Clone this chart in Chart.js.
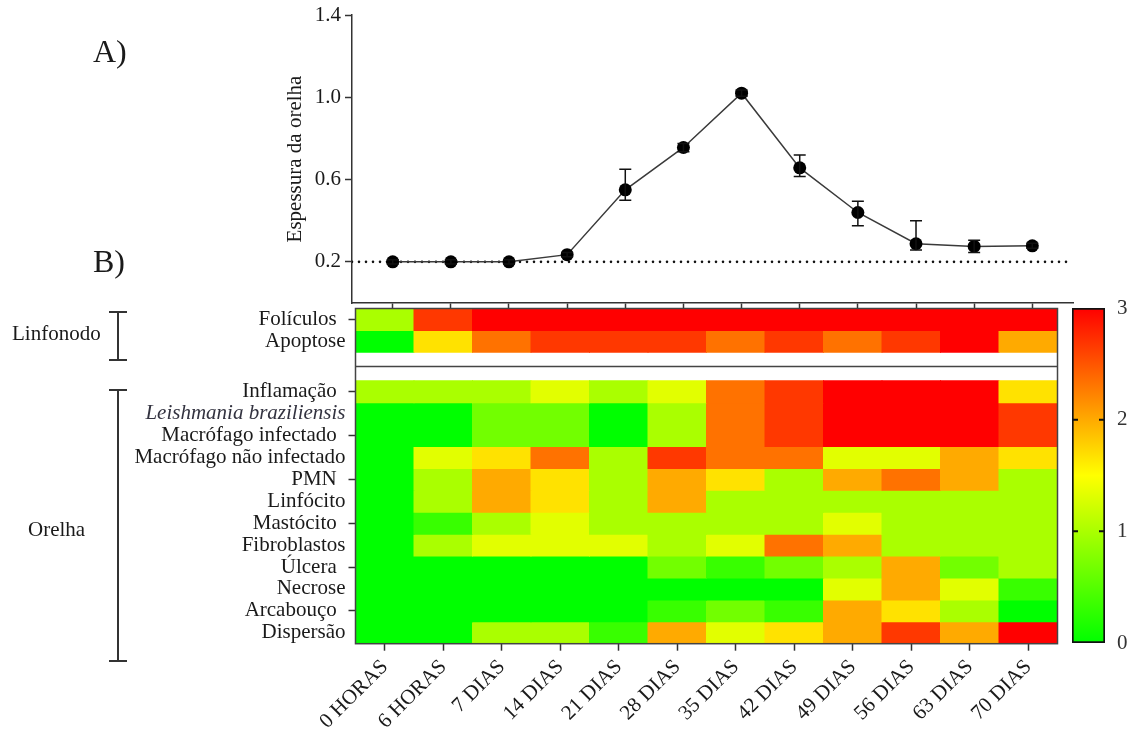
<!DOCTYPE html>
<html>
<head>
<meta charset="utf-8">
<script src="https://cdn.jsdelivr.net/npm/chart.js@4.4.0/dist/chart.umd.min.js"></script>
<style>
  body { margin: 0; background: #fff; width: 1135px; height: 734px; position: relative; overflow: hidden;
         font-family: "Liberation Serif", "Times New Roman", serif; color: #1a1a1a; }
  canvas { position: absolute; left: 0; top: 0; }
  .txt { position: absolute; line-height: 1; white-space: nowrap; }
  .brk { position: absolute; left: 117px; border-left: 2px solid #333; }
  .brk::before, .brk::after { content: ""; position: absolute; left: -10px; width: 18px; border-top: 2px solid #333; }
  .brk::before { top: 0; }
  .brk::after { bottom: -2px; }
</style>
</head>
<body>
<canvas id="lineChart" width="1135" height="311"></canvas>
<canvas id="heatChart" width="1135" height="734"></canvas>
<canvas id="scaleChart" width="1135" height="734"></canvas>

<div class="txt" style="left:93px; top:35px; font-size:32px;">A)</div>
<div class="txt" style="left:93px; top:245px; font-size:32px;">B)</div>
<div class="txt" style="left:12px; top:323px; font-size:21px;">Linfonodo</div>
<div class="txt" style="left:28px; top:519px; font-size:21px;">Orelha</div>
<div class="brk" style="top:311px; height:48px;"></div>
<div class="brk" style="top:389px; height:271px;"></div>

<script>
// time points
const timeLabels = ['0 HORAS', '6 HORAS', '7 DIAS', '14 DIAS', '21 DIAS', '28 DIAS',
                    '35 DIAS', '42 DIAS', '49 DIAS', '56 DIAS', '63 DIAS', '70 DIAS'];

// A) ear thickness, mean and error bar ends
const thickness = [0.20, 0.20, 0.20, 0.235, 0.55, 0.756, 1.02, 0.657, 0.44, 0.288, 0.275, 0.278];
const errUpper  = [0.21, 0.21, 0.21, 0.245, 0.65, 0.775, 1.035, 0.72, 0.495, 0.40, 0.305, 0.29];
const errLower  = [0.19, 0.19, 0.19, 0.225, 0.50, 0.735, 1.005, 0.615, 0.375, 0.258, 0.245, 0.266];
const baseline = 0.2;
const thicknessTicks = [0.2, 0.6, 1.0, 1.4];

// B) histopathology scores (0-3)
const lymphLabels = ['Folículos', 'Apoptose'];
const lymphScores = [
  [1, 2.67, 3, 3, 3, 3, 3, 3, 3, 3, 3, 3],
  [0, 1.67, 2.33, 2.67, 2.67, 2.67, 2.33, 2.67, 2.33, 2.67, 3, 2]
];
const earLabels = ['Inflamação', 'Leishmania braziliensis', 'Macrófago infectado', 'Macrófago não infectado',
                   'PMN', 'Linfócito', 'Mastócito', 'Fibroblastos', 'Úlcera', 'Necrose', 'Arcabouço', 'Dispersão'];
const earScores = [
  [1, 1, 1, 1.33, 1, 1.33, 2.33, 2.67, 3, 3, 3, 1.67],
  [0, 0, 0.67, 0.67, 0, 1, 2.33, 2.67, 3, 3, 3, 2.67],
  [0, 0, 0.67, 0.67, 0, 1, 2.33, 2.67, 3, 3, 3, 2.67],
  [0, 1.33, 1.67, 2.33, 1, 2.67, 2.33, 2.33, 1.33, 1.33, 2, 1.67],
  [0, 1, 2, 1.67, 1, 2, 1.67, 1, 2, 2.33, 2, 1],
  [0, 1, 2, 1.67, 1, 2, 1, 1, 1, 1, 1, 1],
  [0, 0.33, 1, 1.33, 1, 1, 1, 1, 1.33, 1, 1, 1],
  [0, 1, 1.33, 1.33, 1.33, 1, 1.33, 2.33, 2, 1, 1, 1],
  [0, 0, 0, 0, 0, 0.67, 0.33, 0.67, 1, 2, 0.67, 1],
  [0, 0, 0, 0, 0, 0, 0, 0, 1.33, 2, 1.33, 0.33],
  [0, 0, 0, 0, 0, 0.33, 0.67, 0.33, 2, 1.67, 1, 0],
  [0, 0, 1, 1, 0.33, 2, 1.33, 1.67, 2, 2.67, 2, 3]
];
const scoreTicks = [0, 1, 2, 3];

const GAP = 1.3;           // empty band between the two groups, in rows
const FONT = '"Liberation Serif", "Times New Roman", serif';
const TEXT = '#1a1a1a';
const AXIS = '#333';

Chart.defaults.font.family = FONT;
Chart.defaults.font.size = 21;
Chart.defaults.color = TEXT;
Chart.defaults.animation = false;
Chart.defaults.plugins.legend.display = false;
Chart.defaults.plugins.tooltip.enabled = false;

function heatColor(v) {
  const t = Math.max(0, Math.min(1, v / 3));
  let r = 255, g = 255;
  if (t < 0.5) r = Math.round(510 * t);
  else g = Math.round(510 * (1 - t));
  return 'rgb(' + r + ',' + g + ',0)';
}

// ---------- A) line chart ----------
const errorBars = {
  id: 'errorBars',
  afterDatasetsDraw(chart) {
    const {ctx, scales: {x, y}} = chart;
    ctx.save();
    ctx.strokeStyle = '#111';
    ctx.lineWidth = 1.5;
    thickness.forEach((v, i) => {
      const px = x.getPixelForValue(i);
      const top = y.getPixelForValue(errUpper[i]);
      const bot = y.getPixelForValue(errLower[i]);
      ctx.beginPath();
      ctx.moveTo(px, top); ctx.lineTo(px, bot);
      ctx.moveTo(px - 6, top); ctx.lineTo(px + 6, top);
      ctx.moveTo(px - 6, bot); ctx.lineTo(px + 6, bot);
      ctx.stroke();
    });
    ctx.restore();
  }
};

new Chart(document.getElementById('lineChart'), {
  type: 'line',
  data: {
    datasets: [{
      data: thickness.map((v, i) => ({x: i, y: v})),
      borderColor: '#3a3a3a',
      borderWidth: 1.5,
      pointRadius: 6.5,
      pointBackgroundColor: '#000',
      pointBorderWidth: 0,
      tension: 0,
      order: 1
    }, {
      data: [{x: -0.7, y: baseline}, {x: timeLabels.length - 0.3, y: baseline}],
      borderColor: '#111',
      borderWidth: 2.6,
      borderDash: [0, 7],
      borderCapStyle: 'round',
      pointRadius: 0,
      order: 2
    }]
  },
  options: {
    responsive: false,
    layout: {padding: {left: 282, top: 15, right: 62, bottom: 0}},
    scales: {
      x: {
        type: 'linear',
        min: -0.7,
        max: timeLabels.length - 0.3,
        afterBuildTicks: (s) => { s.ticks = timeLabels.map((_, i) => ({value: i})); },
        afterFit: (s) => { s.height = 8; s.paddingLeft = 0; s.paddingRight = 0; },
        ticks: {display: false},
        grid: {drawOnChartArea: false, tickLength: 7, tickWidth: 1.5, tickColor: AXIS},
        border: {color: AXIS, width: 1.5}
      },
      y: {
        min: 0,
        max: 1.4,
        afterBuildTicks: (s) => { s.ticks = thicknessTicks.map(v => ({value: v})); },
        afterFit: (s) => { s.width = 70; s.paddingTop = 0; s.paddingBottom = 0; },
        ticks: {padding: 4, callback: (v) => v.toFixed(1)},
        grid: {drawOnChartArea: false, tickLength: 7, tickWidth: 1.5, tickColor: AXIS},
        border: {color: AXIS, width: 1.5},
        title: {display: true, text: 'Espessura da orelha', padding: {top: 1, bottom: 0}}
      }
    }
  },
  plugins: [errorBars]
});

// ---------- B) heat map ----------
const rows = [];
lymphLabels.forEach((label, j) => {
  const lo = earLabels.length + GAP + (lymphLabels.length - 1 - j);
  rows.push({label, values: lymphScores[j], lo, ticked: j % 2 === 0});
});
earLabels.forEach((label, i) => {
  const lo = earLabels.length - 1 - i;
  rows.push({label, values: earScores[i], lo, ticked: i % 2 === 0});
});
const rowTop = earLabels.length + GAP + lymphLabels.length;

const heatFrame = {
  id: 'heatFrame',
  afterDatasetsDraw(chart) {
    const {ctx, chartArea: a, scales: {y}} = chart;
    ctx.save();
    ctx.strokeStyle = '#444';
    ctx.lineWidth = 1.5;
    ctx.strokeRect(a.left, a.top, a.width, a.height);
    const mid = y.getPixelForValue(earLabels.length + GAP / 2);
    ctx.beginPath();
    ctx.moveTo(a.left, mid); ctx.lineTo(a.right, mid);
    ctx.stroke();
    ctx.restore();
  }
};

const isItalic = (ctx) => rows[ctx.index] && rows[ctx.index].label.startsWith('Leishmania');

new Chart(document.getElementById('heatChart'), {
  type: 'bar',
  data: {
    labels: timeLabels,
    datasets: rows.map(r => ({
      data: r.values.map(() => [r.lo, r.lo + 1]),
      backgroundColor: r.values.map(heatColor),
      borderWidth: 0,
      inflateAmount: 0.5,
      barPercentage: 1,
      categoryPercentage: 1,
      grouped: false
    }))
  },
  options: {
    responsive: false,
    layout: {padding: {left: 100, top: 308.5, right: 77.5, bottom: 0}},
    scales: {
      x: {
        offset: true,
        afterFit: (s) => { s.height = 734 - 643.7; s.paddingLeft = 0; s.paddingRight = 0; },
        ticks: {minRotation: 45, maxRotation: 45, autoSkip: false, padding: 4},
        grid: {offset: false, drawOnChartArea: false, tickLength: 7, tickWidth: 1.5, tickColor: AXIS},
        border: {display: false}
      },
      y: {
        min: 0,
        max: rowTop,
        afterBuildTicks: (s) => { s.ticks = rows.map(r => ({value: r.lo + 0.5})); },
        afterFit: (s) => { s.width = 255.5; s.paddingTop = 0; s.paddingBottom = 0; },
        ticks: {
          autoSkip: false,
          padding: 3,
          callback: (v, i) => rows[i].ticked ? rows[i].label + ' \u2006' : rows[i].label,
          font: (ctx) => isItalic(ctx) ? {family: FONT, size: 21, style: 'italic'} : {family: FONT, size: 21},
          color: (ctx) => isItalic(ctx) ? '#333340' : TEXT
        },
        grid: {
          drawOnChartArea: false,
          tickLength: 7,
          tickWidth: 1.5,
          tickColor: (ctx) => rows[ctx.index] && rows[ctx.index].ticked ? AXIS : 'rgba(0,0,0,0)'
        },
        border: {display: false}
      }
    }
  },
  plugins: [heatFrame]
});

// ---------- colour scale ----------
const scaleMarks = {
  id: 'scaleMarks',
  afterDatasetsDraw(chart) {
    const {ctx, chartArea: a, scales: {y}} = chart;
    ctx.save();
    ctx.strokeStyle = '#111';
    ctx.lineWidth = 2;
    scoreTicks.slice(1, -1).forEach(v => {
      const py = y.getPixelForValue(v);
      ctx.beginPath();
      ctx.moveTo(a.left, py); ctx.lineTo(a.left + 6, py);
      ctx.moveTo(a.right - 6, py); ctx.lineTo(a.right, py);
      ctx.stroke();
    });
    ctx.restore();
  }
};

new Chart(document.getElementById('scaleChart'), {
  type: 'bar',
  data: {
    labels: [''],
    datasets: [{
      data: [[scoreTicks[0], scoreTicks[scoreTicks.length - 1]]],
      backgroundColor: (ctx) => {
        const {chart} = ctx;
        if (!chart.chartArea) return null;
        const y = chart.scales.y;
        const g = chart.ctx.createLinearGradient(0, y.getPixelForValue(0), 0, y.getPixelForValue(3));
        g.addColorStop(0, heatColor(0));
        g.addColorStop(0.5, heatColor(1.5));
        g.addColorStop(1, heatColor(3));
        return g;
      },
      borderColor: '#111',
      borderWidth: 2,
      borderSkipped: false,
      barPercentage: 1,
      categoryPercentage: 1
    }]
  },
  options: {
    responsive: false,
    layout: {padding: {left: 1072, top: 308, right: 0, bottom: 91}},
    scales: {
      x: {display: false},
      y: {
        position: 'right',
        min: 0,
        max: 3,
        afterBuildTicks: (s) => { s.ticks = scoreTicks.map(v => ({value: v})); },
        afterFit: (s) => { s.width = 1135 - 1072 - 33; s.paddingTop = 0; s.paddingBottom = 0; },
        ticks: {padding: 12, color: '#333'},
        grid: {display: false, drawTicks: false},
        border: {display: false}
      }
    }
  },
  plugins: [scaleMarks]
});
</script>
</body>
</html>
